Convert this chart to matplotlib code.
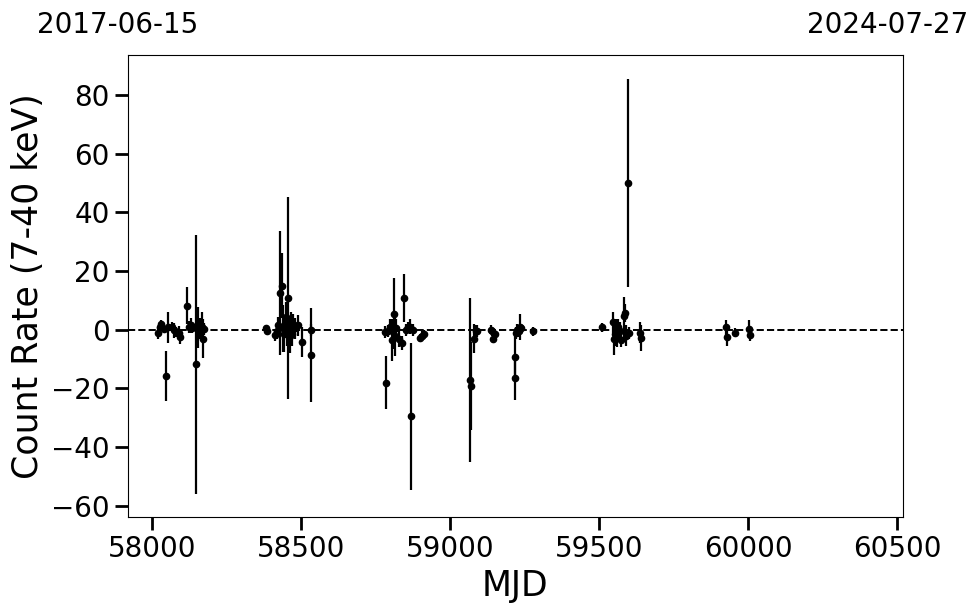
import numpy as np
import matplotlib
matplotlib.use("Agg")
import matplotlib.pyplot as plt

# MJD, count rate and 1-sigma error
mjd = np.array([
    58022, 58026, 58032, 58040, 58048, 58054, 58068, 58075, 58082, 58090,
    58096, 58119, 58124, 58130, 58136, 58148, 58155, 58162, 58168, 58173, 58176,
    58383, 58387, 58413, 58420, 58425, 58430, 58436, 58440, 58445, 58450,
    58455, 58458, 58462, 58466, 58470, 58475, 58482, 58490, 58505, 58533, 58534,
    58782, 58786, 58792, 58800, 58806, 58812, 58815, 58820, 58830, 58838,
    58845, 58852, 58860, 58866, 58870, 58876, 58898, 58905, 58913,
    59066, 59069, 59082, 59087, 59092, 59138, 59141, 59145, 59150,
    59218, 59219, 59222, 59226, 59230, 59234, 59238, 59277,
    59510, 59548, 59550, 59553, 59556, 59560, 59565, 59570, 59575,
    59585, 59586, 59590, 59597, 59600, 59638, 59640,
    59925, 59928, 59955, 60003, 60006,
])
rate = np.array([
    -1.2, 1.0, 1.8, 0.3, -15.8, 0.8, 1.0, -0.2, -0.8, -1.0,
    -2.5, 8.2, 1.0, 1.5, 0.5, -11.8, 0.8, 0.5, 1.0, -3.0, 0.2,
    0.5, -0.3, -1.8, -0.5, 1.5, 12.5, 15.0, 0.5, -1.5, 4.5,
    -0.5, 10.8, -2.0, 1.0, -1.5, 2.0, 0.5, 1.5, -4.2, 0.0, -8.5,
    -0.8, -18.0, -0.5, 1.0, -3.5, 5.5, -2.0, 0.5, -3.0, -4.5,
    10.8, 0.0, 0.8, 1.0, -29.5, 0.0, -2.8, -2.0, -1.5,
    -17.2, -19.2, -3.0, -0.5, -0.5, 0.0, -0.5, -3.0, -1.5,
    -16.5, -9.3, -1.0, 0.0, -0.5, 1.0, 0.5, -0.5,
    0.8, 2.5, -3.0, -1.5, 0.5, -2.5, 1.0, -0.5, -3.5,
    4.8, 5.8, -2.0, 50.0, -1.0, -1.0, -2.8,
    0.8, -2.5, -1.0, 0.2, -1.8,
])
err = np.array([
    2.0, 1.5, 1.5, 1.2, 8.5, 5.2, 1.5, 2.5, 1.8, 2.2,
    2.5, 6.2, 2.0, 2.5, 1.5, 44.2, 7.0, 3.5, 5.0, 6.5, 2.0,
    1.0, 1.0, 2.0, 2.5, 3.0, 21.0, 11.0, 8.0, 6.0, 5.0,
    5.0, 34.5, 6.0, 5.0, 4.0, 3.5, 3.5, 3.5, 5.0, 2.0, 16.0,
    2.0, 9.0, 2.0, 2.5, 7.0, 12.0, 7.0, 3.0, 3.0, 2.5,
    8.2, 2.0, 2.0, 2.5, 25.0, 2.0, 1.5, 1.5, 1.5,
    28.0, 15.0, 5.0, 2.0, 2.0, 1.5, 1.5, 1.5, 1.5,
    7.5, 7.0, 2.0, 2.0, 2.0, 4.5, 1.5, 1.5,
    1.5, 3.5, 5.5, 4.0, 3.0, 3.5, 2.5, 3.0, 2.5,
    6.5, 3.0, 3.5, 35.5, 2.0, 3.5, 4.5,
    2.5, 3.0, 1.5, 3.0, 2.0,
])

mjd_start, mjd_end = 57919, 60518
date_start, date_end = "2017-06-15", "2024-07-27"

fig = plt.figure(figsize=(9.8, 6.13), dpi=100)
ax = fig.add_axes([0.1302, 0.1566, 0.7908, 0.7537])

ax.errorbar(mjd, rate, yerr=err, fmt="o", color="k", ms=4.5, elinewidth=1.6, capsize=0)
ax.axhline(0, color="k", ls="--", lw=1.4)

ax.set_xlim(mjd_start, mjd_end)
ax.set_ylim(-63.8, 93.6)
ax.set_xticks([58000, 58500, 59000, 59500, 60000, 60500])
ax.set_yticks([-60, -40, -20, 0, 20, 40, 60, 80])
ax.tick_params(labelsize=20, length=9.5, width=2)
ax.set_xlabel("MJD", fontsize=25)
ax.set_ylabel("Count Rate (7-40 keV)", fontsize=25)

fig.text(118 / 980, 1 - 33 / 613, date_start, fontsize=20, ha="center", va="baseline")
fig.text(888 / 980, 1 - 33 / 613, date_end, fontsize=20, ha="center", va="baseline")

fig.savefig("out.png", dpi=100)
